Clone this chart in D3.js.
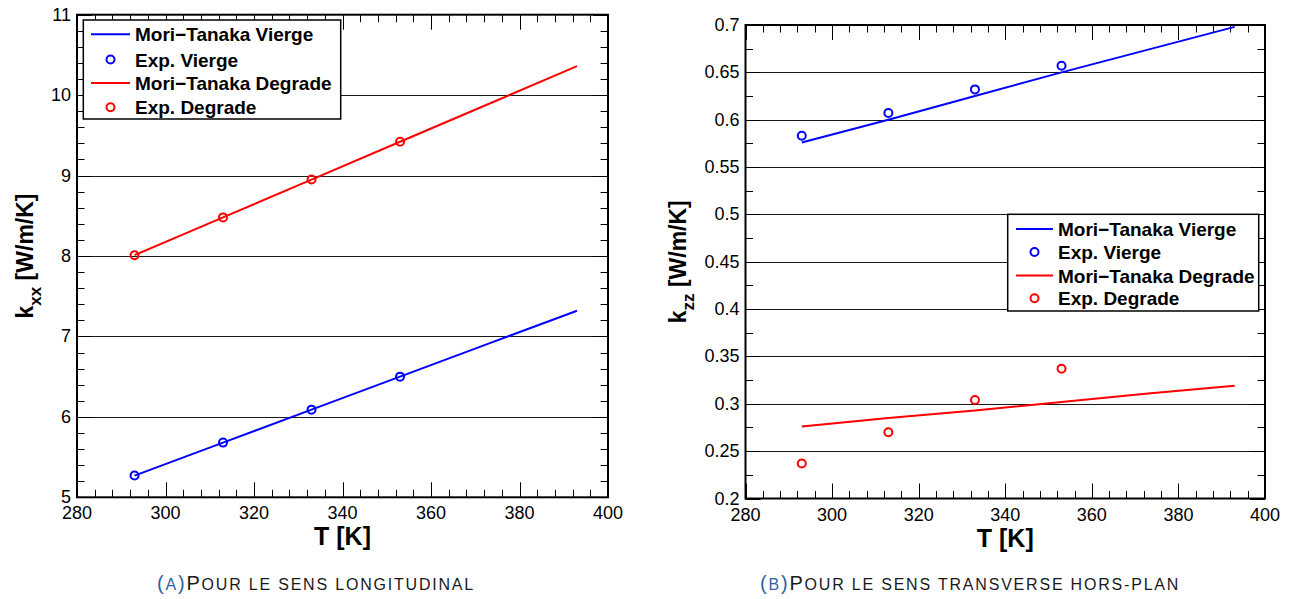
<!DOCTYPE html>
<html><head><meta charset="utf-8">
<script src="https://cdn.jsdelivr.net/npm/d3@7/dist/d3.min.js"></script>
<style>body{margin:0;background:#fff}svg{display:block}</style>
</head><body>
<svg id="c" width="1291" height="599"></svg>
<script>
const T_exp = [293, 313, 333, 353];
const T_model = [293, 313, 333, 353, 373, 393];
const kxx_mt_vierge = [5.27, 5.68, 6.09, 6.50, 6.91, 7.32];
const kxx_mt_degrade = [8.01, 8.48, 8.95, 9.42, 9.89, 10.36];
const kxx_exp_vierge = [5.27, 5.68, 6.09, 6.50];
const kxx_exp_degrade = [8.01, 8.48, 8.95, 9.42];
const kzz_mt_vierge = [0.576, 0.600, 0.625, 0.650, 0.674, 0.698];
const kzz_mt_degrade = [0.276, 0.285, 0.293, 0.302, 0.311, 0.319];
const kzz_exp_vierge = [0.583, 0.607, 0.632, 0.657];
const kzz_exp_degrade = [0.237, 0.270, 0.304, 0.337];
const xTicks = [280, 300, 320, 340, 360, 380, 400];
const kxxTicks = [5, 6, 7, 8, 9, 10, 11];
const kzzTicks = [0.2, 0.25, 0.3, 0.35, 0.4, 0.45, 0.5, 0.55, 0.6, 0.65, 0.7];
const legendLabels = ["Mori\u2212Tanaka Vierge", "Exp. Vierge", "Mori\u2212Tanaka Degrade", "Exp. Degrade"];

const svg = d3.select("#c");
const FONT = "'Liberation Sans', Arial, Helvetica, sans-serif";

function panel(cfg) {
  const x = d3.scaleLinear().domain([280, 400]).range([cfg.l, cfg.r]);
  const y = d3.scaleLinear().domain(cfg.ydom).range([cfg.b, cfg.t]);
  const g = svg.append("g");
  // grid
  g.selectAll(".grid").data(cfg.yTicks.slice(1, -1)).enter().append("line")
    .attr("x1", cfg.l).attr("x2", cfg.r)
    .attr("y1", d => Math.round(y(d)) + 0.5).attr("y2", d => Math.round(y(d)) + 0.5)
    .attr("stroke", "#1a1a1a").attr("stroke-width", 1);
  // ticks
  const xMinor = d3.range(280, 400.01, 4);
  const yMinor = d3.range(cfg.ydom[0], cfg.ydom[1] + cfg.ymin / 2, cfg.ymin);
  const tk = g.append("g").attr("stroke", "#000").attr("stroke-width", 1);
  xMinor.forEach(v => {
    const major = xTicks.some(m => Math.abs(m - v) < 1e-6);
    const L = major ? 15 : 7.5;
    const px = Math.round(x(v)) + 0.5;
    tk.append("line").attr("x1", px).attr("x2", px).attr("y1", cfg.b).attr("y2", cfg.b - L);
    tk.append("line").attr("x1", px).attr("x2", px).attr("y1", cfg.t).attr("y2", cfg.t + L);
  });
  yMinor.forEach(v => {
    const major = cfg.yTicks.some(m => Math.abs(m - v) < 1e-6);
    const L = major ? 15 : 7.5;
    const py = Math.round(y(v)) + 0.5;
    tk.append("line").attr("y1", py).attr("y2", py).attr("x1", cfg.l).attr("x2", cfg.l + L);
    tk.append("line").attr("y1", py).attr("y2", py).attr("x1", cfg.r).attr("x2", cfg.r - L);
  });
  // frame
  g.append("rect").attr("x", cfg.l).attr("y", cfg.t).attr("width", cfg.r - cfg.l).attr("height", cfg.b - cfg.t)
    .attr("fill", "none").attr("stroke", "#000").attr("stroke-width", 2);
  // tick labels
  g.selectAll(".xl").data(xTicks).enter().append("text")
    .attr("x", d => x(d)).attr("y", cfg.b + 22).attr("text-anchor", "middle")
    .attr("font-family", FONT).attr("font-size", 18).text(d => d);
  g.selectAll(".yl").data(cfg.yTicks).enter().append("text")
    .attr("x", cfg.l - 6).attr("y", d => y(d) + 6).attr("text-anchor", "end")
    .attr("font-family", FONT).attr("font-size", 18).text(d => cfg.fmt(d));
  // axis titles
  g.append("text").attr("x", (cfg.l + cfg.r) / 2).attr("y", cfg.b + 48).attr("text-anchor", "middle")
    .attr("font-family", FONT).attr("font-size", 25).attr("font-weight", "bold").text("T [K]");
  const yt = g.append("text").attr("transform", `translate(${cfg.ytx},${(cfg.t + cfg.b) / 2}) rotate(-90)`)
    .attr("text-anchor", "middle").attr("font-family", FONT).attr("font-size", 23).attr("font-weight", "bold");
  yt.append("tspan").text("k");
  yt.append("tspan").attr("font-size", 17).attr("dy", 8).text(cfg.sub);
  yt.append("tspan").attr("dy", -8).text(" [W/m/K]");
  // data
  const line = d3.line().x(d => x(d[0])).y(d => y(d[1]));
  const series = [
    {m: cfg.mtV, e: cfg.exV, c: "#0000ff"},
    {m: cfg.mtD, e: cfg.exD, c: "#ff0000"}
  ];
  series.forEach(s => {
    g.append("path").datum(T_model.map((t, i) => [t, s.m[i]])).attr("d", line)
      .attr("fill", "none").attr("stroke", s.c).attr("stroke-width", 2);
    g.selectAll(null).data(T_exp.map((t, i) => [t, s.e[i]])).enter().append("circle")
      .attr("cx", d => x(d[0])).attr("cy", d => y(d[1])).attr("r", 4)
      .attr("fill", "none").attr("stroke", s.c).attr("stroke-width", 2);
  });
  // legend
  const L = cfg.leg;
  const lg = g.append("g");
  lg.append("rect").attr("x", L.x0).attr("y", L.y0).attr("width", L.x1 - L.x0).attr("height", L.y1 - L.y0)
    .attr("fill", "#fff").attr("stroke", "#000").attr("stroke-width", 1.5);
  const cols = ["#0000ff", "#0000ff", "#ff0000", "#ff0000"];
  legendLabels.forEach((lab, i) => {
    const yy = L.rows[i];
    if (i % 2 === 0) {
      lg.append("line").attr("x1", L.lx0).attr("x2", L.lx1).attr("y1", yy).attr("y2", yy)
        .attr("stroke", cols[i]).attr("stroke-width", 2);
    } else {
      lg.append("circle").attr("cx", (L.lx0 + L.lx1) / 2).attr("cy", yy).attr("r", 4)
        .attr("fill", "none").attr("stroke", cols[i]).attr("stroke-width", 2);
    }
    lg.append("text").attr("x", L.tx).attr("y", yy + 7).attr("font-family", FONT)
      .attr("font-size", 19).attr("font-weight", "bold").text(lab);
  });
  // caption
  const cap = svg.append("text").attr("x", cfg.capx).attr("y", 590).attr("font-family", FONT)
    .attr("letter-spacing", 1.8).attr("fill", "#1a1a1a");
  cap.append("tspan").attr("fill", "#2f62a8").attr("font-size", 20).text("(");
  cap.append("tspan").attr("fill", "#2f62a8").attr("font-size", 16).text(cfg.capLetter);
  cap.append("tspan").attr("fill", "#2f62a8").attr("font-size", 20).text(")");
  cap.append("tspan").attr("font-size", 20).text(cfg.capFirst);
  cap.append("tspan").attr("font-size", 16).text(cfg.capRest);
}

panel({
  l: 77, r: 608, t: 14.7, b: 497.3, ydom: [5, 11], yTicks: kxxTicks, ymin: 0.2, fmt: d => d,
  sub: "xx", ytx: 33, mtV: kxx_mt_vierge, exV: kxx_exp_vierge, mtD: kxx_mt_degrade, exD: kxx_exp_degrade,
  leg: {x0: 83.3, x1: 340.7, y0: 20, y1: 119, lx0: 91, lx1: 130, tx: 135, rows: [34.3, 59.5, 83, 107.3]},
  capx: 157, capLetter: "A", capFirst: "P", capRest: "OUR LE SENS LONGITUDINAL"
});
panel({
  l: 745.5, r: 1265, t: 25, b: 498.5, ydom: [0.2, 0.7], yTicks: kzzTicks, ymin: 0.025, fmt: d => String(+d.toFixed(2)),
  sub: "zz", ytx: 686, mtV: kzz_mt_vierge, exV: kzz_exp_vierge, mtD: kzz_mt_degrade, exD: kzz_exp_degrade,
  leg: {x0: 1007.7, x1: 1258.7, y0: 214.3, y1: 311, lx0: 1016, lx1: 1053, tx: 1058, rows: [229, 252, 275.5, 298.3]},
  capx: 760, capLetter: "B", capFirst: "P", capRest: "OUR LE SENS TRANSVERSE HORS-PLAN"
});
</script>
</body></html>
